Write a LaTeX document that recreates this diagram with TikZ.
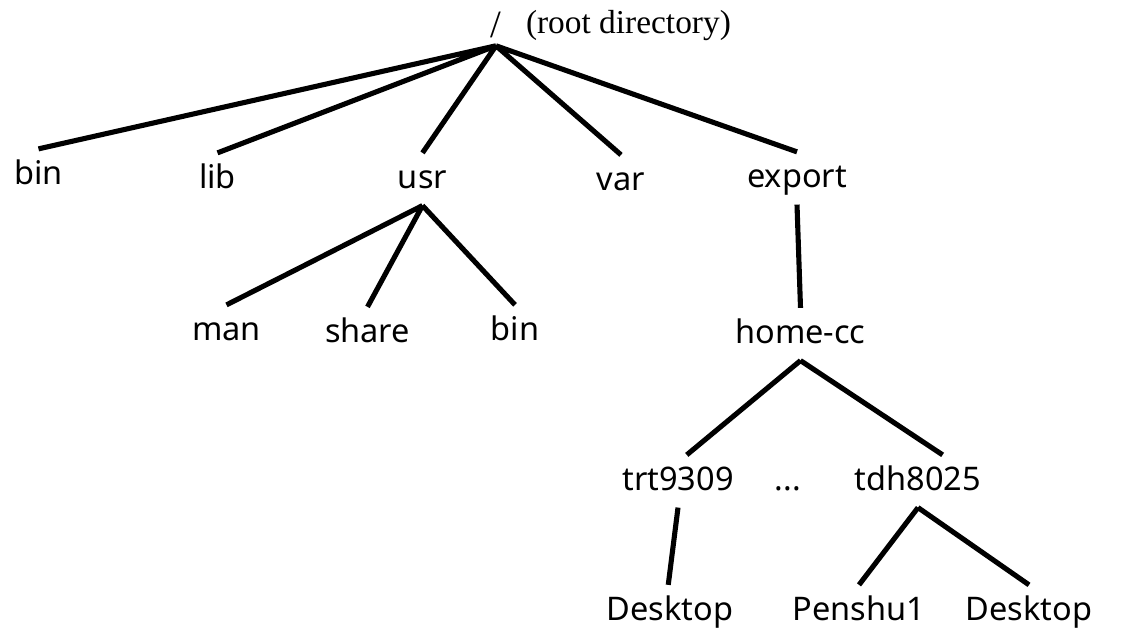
\documentclass[tikz,border=0pt]{standalone}
\usepackage{fontspec}
\setmainfont{Noto Sans}
\newfontfamily\rootfont{Liberation Serif}
\begin{document}
\begin{tikzpicture}[x=0.02cm,y=-0.02cm]
	\tikzstyle{dir}=[font=\fontsize{18.5}{20}\selectfont,inner sep=0pt,outer sep=6pt,text height=14pt,text depth=4pt,anchor=base]
	\tikzstyle{rt}=[font=\rootfont\fontsize{19}{21}\selectfont,inner sep=0pt,outer sep=5pt,text depth=0pt,anchor=base]
	\tikzstyle{branch}=[line width=2.9pt]
	\useasboundingbox (0,0) rectangle (1142,629);
	\node[rt,font=\rootfont\fontsize{22}{24}\selectfont] (root) at (496,37) {/};
	\node[rt,outer sep=0pt,anchor=base west] (rootnote) at (526,33) {(root directory)};
	\node[dir] (bin) at (38.5,184) {bin};
	\node[dir] (lib) at (217.5,188) {lib};
	\node[dir] (usr) at (422.5,188) {usr};
	\node[dir] (var) at (621,190) {var};
	\node[dir] (export) at (797,187) {export};
	\node[dir] (man) at (226.5,340) {man};
	\node[dir] (share) at (367.5,342) {share};
	\node[dir] (usrbin) at (515,340) {bin};
	\node[dir] (homecc) at (800.5,343) {home-cc};
	\node[dir] (trt) at (678,490) {trt9309};
	\node[dir] (dots) at (788,490) {...};
	\node[dir] (tdh) at (918,490) {tdh8025};
	\node[dir] (trtdesk) at (670,620) {Desktop};
	\node[dir] (penshu) at (859,620) {Penshu1};
	\node[dir] (tdhdesk) at (1029,620) {Desktop};
	\draw[branch] (root.south) -- (bin.north) (root.south) -- (lib.north) (root.south) -- (usr.north) (root.south) -- (var.north) (root.south) -- (export.north)
		(usr.south) -- (man.north) (usr.south) -- (share.north) (usr.south) -- (usrbin.north)
		(export.south) -- (homecc.north) (homecc.south) -- ([xshift=5pt]trt.north) (homecc.south) -- ([xshift=14pt]tdh.north)
		(trt.south) -- ([xshift=-1pt]trtdesk.north) (tdh.south) -- (penshu.north) (tdh.south) -- (tdhdesk.north);
\end{tikzpicture}
\end{document}
